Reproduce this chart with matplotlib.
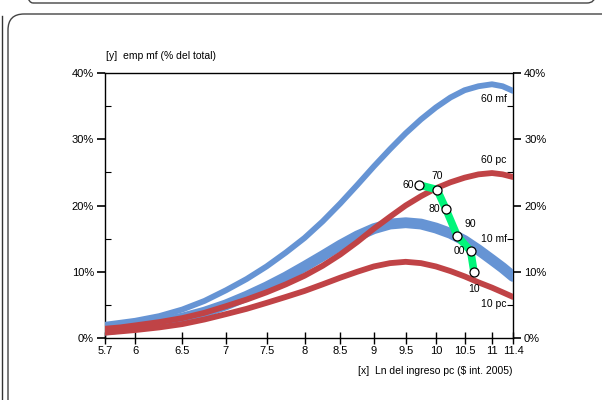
import matplotlib
matplotlib.use("Agg")
import matplotlib.pyplot as plt
from matplotlib.patches import FancyBboxPatch
from matplotlib.lines import Line2D
from matplotlib.transforms import IdentityTransform
from matplotlib.ticker import FixedLocator, NullFormatter

plt.rcParams['font.family'] = ['Liberation Sans', 'DejaVu Sans']

# ---- data ----
x_ticks = [5.7, 6, 6.5, 7, 7.5, 8, 8.5, 9, 9.5, 10, 10.5, 11, 11.4]
x_tick_labels = ["5.7", "6", "6.5", "7", "7.5", "8", "8.5", "9", "9.5", "10", "10.5", "11", "11.4"]
y_ticks = [0, 10, 20, 30, 40]
y_tick_labels = ["0%", "10%", "20%", "30%", "40%"]

x_curve = [5.7, 5.85, 6.0, 6.25, 6.5, 6.75, 7.0, 7.25, 7.5, 7.75, 8.0, 8.25, 8.5,
           8.75, 9.0, 9.25, 9.5, 9.75, 10.0, 10.25, 10.5, 10.75, 11.0, 11.2, 11.4]
mf60 = [2.0, 2.3, 2.6, 3.3, 4.3, 5.6, 7.2, 8.9, 10.8, 12.9, 15.1, 17.6, 20.3,
        23.1, 25.9, 28.5, 30.9, 33.0, 34.8, 36.3, 37.4, 38.0, 38.3, 38.0, 37.3]
pc60 = [1.4, 1.6, 1.9, 2.4, 3.0, 3.8, 4.8, 5.8, 6.9, 8.1, 9.4, 10.9, 12.6,
        14.5, 16.5, 18.3, 20.0, 21.4, 22.6, 23.5, 24.2, 24.7, 24.9, 24.7, 24.3]
mf10 = [1.2, 1.5, 1.8, 2.3, 3.0, 3.9, 5.0, 6.3, 7.7, 9.2, 10.8, 12.4, 14.0,
        15.4, 16.5, 17.2, 17.4, 17.2, 16.6, 15.8, 14.7, 13.3, 11.8, 10.6, 9.3]
pc10 = [0.8, 1.0, 1.2, 1.6, 2.1, 2.8, 3.6, 4.4, 5.3, 6.2, 7.1, 8.1, 9.1,
        10.0, 10.8, 11.3, 11.5, 11.3, 10.8, 10.1, 9.3, 8.4, 7.6, 6.9, 6.2]

decade_x = [9.72, 10.02, 10.17, 10.37, 10.61, 10.67]
decade_y = [23.1, 22.4, 19.5, 15.4, 13.1, 9.9]
decade_labels = ["60", "70", "80", "90", "00", "10"]

BLUE = "#6694d4"
RED = "#c04346"
GREEN = "#00f57a"

W, H = 602, 400
fig = plt.figure(figsize=(W / 100, H / 100), dpi=100)
ident = IdentityTransform()

# page decoration (pixel coordinates, origin bottom-left)
fig.patches.append(FancyBboxPatch((8, -40), 700, (H - 14) + 40,
                                  boxstyle="round,pad=0,rounding_size=16",
                                  transform=ident, fill=False,
                                  edgecolor="#444444", linewidth=1.0))
fig.patches.append(FancyBboxPatch((25, H - 3), 595 - 25, 40,
                                  boxstyle="round,pad=0,rounding_size=8",
                                  transform=ident, fill=False,
                                  edgecolor="#444444", linewidth=1.0))
fig.lines.append(Line2D([2, 2], [0, H - 16], transform=ident,
                        color="#333333", linewidth=1.0))

ax = fig.add_axes([105 / W, 1 - 338 / H, (513 - 105) / W, (338 - 73) / H])
ax.set_xscale("log")
ax.set_xlim(5.7, 11.4)
ax.set_ylim(0, 40)

ax.plot(x_curve, mf60, color=BLUE, lw=4.2, solid_capstyle="round", solid_joinstyle="round", zorder=3)
ax.plot(x_curve, mf10, color=BLUE, lw=7.8, solid_capstyle="round", solid_joinstyle="round", zorder=3)
ax.plot(x_curve, pc60, color=RED, lw=4.2, solid_capstyle="round", solid_joinstyle="round", zorder=4)
ax.plot(x_curve, pc10, color=RED, lw=4.2, solid_capstyle="round", solid_joinstyle="round", zorder=4)

ax.plot(decade_x, decade_y, color=GREEN, lw=5.5, solid_capstyle="round", zorder=5)
ax.plot(decade_x, decade_y, linestyle="none", marker="o", ms=6.5,
        mfc="white", mec="black", mew=0.9, zorder=6)

offsets = [(-4, 0, "right", "center"), (0, 6, "center", "bottom"),
           (-4, 0, "right", "center"), (5, 5, "left", "bottom"),
           (-4, 0, "right", "center"), (0, -8, "center", "top")]
for x, y, t, (dx, dy, ha, va) in zip(decade_x, decade_y, decade_labels, offsets):
    ax.annotate(t, (x, y), xytext=(dx, dy), textcoords="offset points",
                ha=ha, va=va, fontsize=7.5, zorder=7)

for t, y in [("60 mf", 36.0), ("60 pc", 26.8), ("10 mf", 15.0), ("10 pc", 5.1)]:
    ax.text(11.28, y, t, ha="right", va="center", fontsize=7.5)

ax.xaxis.set_major_locator(FixedLocator(x_ticks))
ax.set_xticklabels(x_tick_labels)
ax.xaxis.set_minor_formatter(NullFormatter())
ax.xaxis.set_minor_locator(FixedLocator([]))
ax.set_yticks(y_ticks)
ax.set_yticklabels(y_tick_labels)
ax.yaxis.set_minor_locator(FixedLocator([5, 15, 25, 35]))

ax.tick_params(axis="x", which="major", direction="inout", length=9, width=1,
               labelsize=8, pad=1, top=False)
ax.tick_params(axis="y", which="major", direction="out", length=6, width=1.2,
               labelsize=8, left=True, right=True, labelleft=True, labelright=True, pad=2)
ax.tick_params(axis="y", which="minor", direction="in", length=4, width=0.8,
               left=True, right=True)
for s in ax.spines.values():
    s.set_linewidth(1.0)

fig.text(106 / W, 1 - 56 / H, "[y]  emp mf (% del total)", ha="left", va="center", fontsize=7.5)
fig.text(513 / W, 1 - 371 / H, "[x]  Ln del ingreso pc ($ int. 2005)", ha="right", va="center", fontsize=7.5)

fig.savefig("out.png", dpi=100)
